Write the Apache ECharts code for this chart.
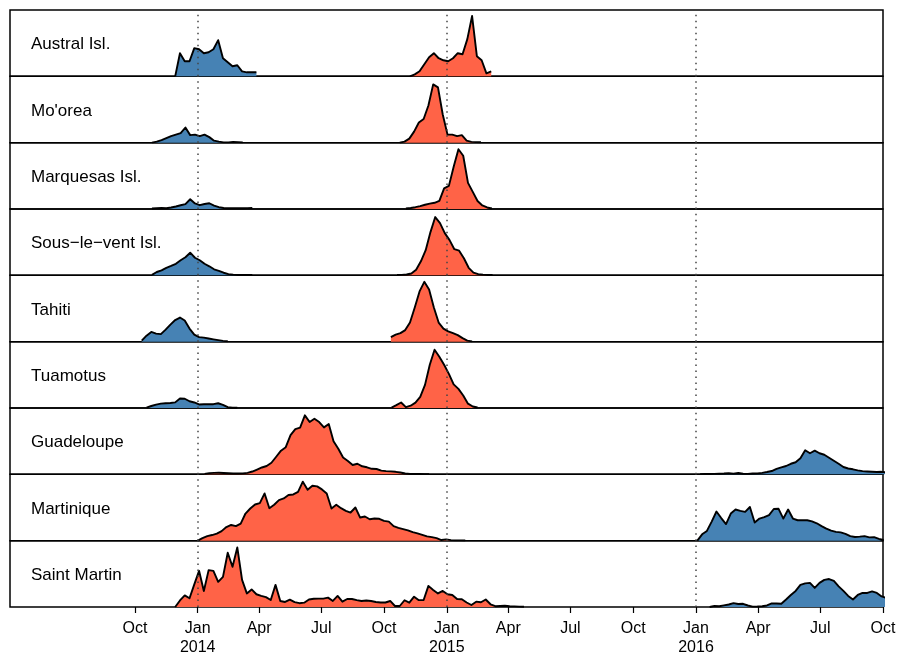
<!DOCTYPE html>
<html><head><meta charset="utf-8">
<script src="https://cdn.jsdelivr.net/npm/echarts@6/dist/echarts.min.js"></script>
<style>html,body{margin:0;padding:0;background:#fff}#c{width:901px;height:658px}</style>
</head><body><div id="c"></div>
<script>
// ---------- data (weekly values, relative incidence) ----------
const panelNames = ['Austral Isl.', "Mo'orea", 'Marquesas Isl.', 'Sous\u2212le\u2212vent Isl.', 'Tahiti', 'Tuamotus', 'Guadeloupe', 'Martinique', 'Saint Martin'];

const australBlueStart = '2013-11-29';
const australBlue = [0, 23, 15, 15, 28, 27, 23, 24, 27, 36, 18, 14, 10, 11, 5, 4, 4, 4];
const australRedStart = '2014-11-08';
const australRed = [0, 2, 5, 12, 19, 23, 18, 16, 15, 18, 23, 22, 37, 60, 20, 16, 3, 5];

const mooreaBlueStart = '2013-10-26';
const mooreaBlue = [0, 1, 2.5, 4.5, 6.5, 8, 9.5, 15, 7.5, 8, 6.5, 8, 5.5, 2, 1, 0.3, 0.3, 0.8, 0.5, 0.3];
const mooreaRedStart = '2014-10-24';
const mooreaRed = [0, 1, 4, 11, 20, 23.5, 37, 58, 55, 28, 8, 8, 6.5, 7.5, 2, 0.8, 0.5, 0.4];

const marquesasBlueStart = '2013-10-26';
const marquesasBlue = [0.5, 0.8, 1, 0.8, 1.5, 2.5, 3.7, 4.8, 9.7, 5.5, 3.8, 5, 5.7, 3.3, 1.8, 1, 0.8, 0.8, 0.7, 0.8, 0.9, 1];
const marquesasRedStart = '2014-11-02';
const marquesasRed = [0.5, 1, 1.8, 2.8, 4.2, 5.3, 6.2, 8, 20.5, 23, 42, 59.5, 53, 26, 17, 8, 3.5, 1.5, 0.5];

const sousBlueStart = '2013-10-26';
const sousBlue = [0.5, 3.3, 5, 7.5, 9.3, 11.5, 15, 18, 22.5, 17.5, 15, 11.5, 9, 6, 4.5, 2.6, 1.2, 0.7, 0.4, 0.3, 0.3, 0.3];
const sousRedStart = '2014-10-20';
const sousRed = [0.3, 0.5, 0.8, 1.8, 5.5, 14, 25, 43, 58, 52, 42, 35, 26, 24.5, 17, 7.5, 2.7, 1.2, 0.7, 0.4, 0.3];

const tahitiBlueStart = '2013-10-11';
const tahitiBlue = [1, 6, 9.7, 8, 7.5, 12, 17, 21.5, 24, 21, 13, 7, 4.5, 4, 3.2, 2.3, 1.5, 0.8, 0.4];
const tahitiRedStart = '2014-10-11';
const tahitiRed = [4.5, 7, 8.5, 11.5, 19, 34, 50, 59.5, 52, 34, 19, 13, 10.3, 8.5, 6.5, 3.5, 1, 0.3];

const tuamotusBlueStart = '2013-10-18';
const tuamotusBlue = [0.3, 2, 3.3, 4.3, 4.7, 5, 5.6, 9.5, 9.2, 6.7, 5.5, 3.5, 3.8, 3.8, 3.8, 4.7, 3.2, 0.8, 0.3, 0.2];
const tuamotusRedStart = '2014-10-12';
const tuamotusRed = [0.3, 2.8, 5.5, 0.8, 2.3, 5.3, 11, 23, 43, 58, 51, 43, 34, 23.5, 19, 12.5, 4.3, 1.5, 0.5];

const guadeloupeRedStart = '2014-01-11';
const guadeloupeRed = [0.5, 1.2, 1.5, 1.6, 1.4, 1.1, 0.9, 0.8, 1, 1.5, 2.8, 4.8, 6.8, 8.3, 11.5, 17.5, 23.5, 27, 39, 45, 46.5, 58.7, 52, 55.3, 52, 46.7, 50, 33, 25.5, 16.7, 13.3, 9.3, 10.5, 8, 7, 5.5, 5.3, 3.7, 3.2, 2.9, 2.5, 1.8, 0.8, 0.4, 0.3, 0.3, 0.2, 0.2];
const guadeloupeBlueStart = '2016-01-07';
const guadeloupeBlue = [0.2, 0.3, 0.3, 0.5, 0.6, 0.8, 1.2, 0.7, 1.3, 0.6, 0.5, 0.8, 1, 1.5, 2.3, 3.3, 5.5, 7, 8.3, 10.5, 12, 16, 24, 21, 23.5, 21, 19.5, 16.5, 13.5, 10.5, 7.3, 5.8, 5, 4, 3.2, 2.8, 2.5, 2.3, 2.5, 2];

const martiniqueRedStart = '2014-01-01';
const martiniqueRed = [0, 2.5, 4.5, 5.6, 7, 9.5, 13.5, 15.6, 14.5, 17, 27, 32, 36, 37.3, 47, 32.3, 35.7, 40.3, 42, 45.5, 46, 48.5, 58.7, 50.7, 54.7, 54, 51, 47, 32, 35.7, 32.3, 29.7, 28, 33, 23, 24, 21.3, 22, 21.8, 19.7, 19, 14.5, 12.8, 11.5, 10.3, 8.5, 7.3, 5.8, 4.3, 3.5, 2.5, 0.6, 1.3, 0.5, 0.3, 0.3, 0.2];
const martiniqueBlueStart = '2016-01-03';
const martiniqueBlue = [0, 6.3, 9.7, 19, 29, 22.5, 16.5, 27, 31, 29.7, 28.7, 33.5, 18, 22, 23.5, 25.5, 31.5, 31.7, 22, 31, 22, 20.3, 20.3, 20.3, 19.2, 17.3, 14.5, 12, 10, 8.8, 8.2, 6.8, 4.5, 3.7, 4, 4.5, 3.3, 3.5, 1.8, 0.8];

const saintMartinRedStart = '2013-11-29';
const saintMartinRed = [0, 6.5, 11.5, 8.7, 22.5, 36, 16, 36.7, 36, 25, 30, 54, 40, 59.3, 27, 13.5, 17.5, 12.7, 11, 9.8, 7, 22, 6, 5, 7.3, 4.8, 3.8, 4.3, 7.5, 8.2, 8.3, 8.3, 9.3, 6, 11, 5.3, 8, 8, 6.8, 6, 6.5, 6, 5, 4.5, 4.5, 6, 1, 1, 6.7, 4.3, 10.3, 6.8, 7, 21, 17, 13.5, 16, 12.7, 12, 8, 7.7, 4.5, 2, 5.3, 4.7, 7.5, 2.7, 0.8, 1, 1.3, 0.8, 0.6, 0.4, 0.3];
const saintMartinBlueStart = '2016-01-21';
const saintMartinBlue = [0, 1, 0.7, 1.6, 2.5, 3.8, 3, 3.2, 1.5, 0.4, 0.5, 0.8, 1.5, 3.5, 3.5, 3.3, 7.5, 12, 16, 22, 23.5, 24, 19, 24, 27, 27.8, 26, 20.5, 16, 11, 7.5, 12, 14, 14, 15.5, 14, 10.5, 9];

const tickDates = ['2013-10-01', '2014-01-01', '2014-04-01', '2014-07-01', '2014-10-01', '2015-01-01', '2015-04-01', '2015-07-01', '2015-10-01', '2016-01-01', '2016-04-01', '2016-07-01', '2016-10-01'];
const monthLabels = ['Jan', 'Feb', 'Mar', 'Apr', 'May', 'Jun', 'Jul', 'Aug', 'Sep', 'Oct', 'Nov', 'Dec'];
const refLineDates = ['2014-01-01', '2015-01-01', '2016-01-01'];
const xMinDate = '2013-04-01';
const xMaxDate = '2016-10-01';
const yMax = 66;

// ---------- build ----------
const DAY = 86400000;
const ts = s => new Date(s + 'T00:00:00').getTime();
function toPairs(start, vals) {
  const t0 = ts(start);
  return vals.map((v, i) => [t0 + i * 7 * DAY, v]);
}
const panelData = [
  [[australBlueStart, australBlue], [australRedStart, australRed]],
  [[mooreaBlueStart, mooreaBlue], [mooreaRedStart, mooreaRed]],
  [[marquesasBlueStart, marquesasBlue], [marquesasRedStart, marquesasRed]],
  [[sousBlueStart, sousBlue], [sousRedStart, sousRed]],
  [[tahitiBlueStart, tahitiBlue], [tahitiRedStart, tahitiRed]],
  [[tuamotusBlueStart, tuamotusBlue], [tuamotusRedStart, tuamotusRed]],
  [[guadeloupeBlueStart, guadeloupeBlue], [guadeloupeRedStart, guadeloupeRed]],
  [[martiniqueBlueStart, martiniqueBlue], [martiniqueRedStart, martiniqueRed]],
  [[saintMartinBlueStart, saintMartinBlue], [saintMartinRedStart, saintMartinRed]]
];
const BLUE = '#4682B4', RED = '#FF6347';
const TOP = 10, BOTTOM = 607, LEFT = 10, RIGHT = 883;
const N = panelNames.length;
const PH = (BOTTOM - TOP) / N;
const FONT = '"Liberation Sans", Arial, Helvetica, sans-serif';

const grids = [], xAxes = [], yAxes = [], series = [], graphics = [];
const tickVals = tickDates.map(ts);
for (let i = 0; i < N; i++) {
  const top = TOP + i * PH;
  grids.push({left: LEFT, width: RIGHT - LEFT, top: top, height: PH, show: true, borderColor: '#000', borderWidth: 1.5, backgroundColor: 'transparent'});
  const last = i === N - 1;
  xAxes.push({
    type: 'value', gridIndex: i, min: ts(xMinDate), max: ts(xMaxDate), scale: true,
    axisLine: {show: false}, splitLine: {show: false},
    axisTick: {show: last, length: 6, lineStyle: {color: '#000', width: 1.2}, customValues: tickVals},
    axisLabel: {
      show: last, customValues: tickVals, margin: 12, fontSize: 16, lineHeight: 19,
      color: '#000', fontFamily: FONT,
      formatter: v => { const d = new Date(v); const m = d.getMonth(); return m === 0 ? monthLabels[m] + '\n' + d.getFullYear() : monthLabels[m]; }
    }
  });
  yAxes.push({type: 'value', gridIndex: i, min: 0, max: yMax, show: false});
  panelData[i].forEach((pd, j) => {
    const s = {
      type: 'line', xAxisIndex: i, yAxisIndex: i, data: toPairs(pd[0], pd[1]),
      symbol: 'none', showSymbol: false, silent: true,
      lineStyle: {color: '#000', width: 1.9, join: 'round'},
      areaStyle: {color: j === 0 ? BLUE : RED, opacity: 1}
    };
    if (j === 0) {
      s.markLine = {
        silent: true, symbol: 'none', label: {show: false},
        lineStyle: {color: '#444', width: 1.5, type: [1.5, 4.5]},
        data: refLineDates.map(d => ({xAxis: ts(d)}))
      };
    }
    series.push(s);
  });
  graphics.push({
    type: 'text', left: 31, top: top + PH / 2 - 7,
    style: {text: panelNames[i], fontSize: 17, fontFamily: FONT, fill: '#000'}
  });
}

const chart = echarts.init(document.getElementById('c'), null, {renderer: 'canvas'});
chart.setOption({
  animation: false,
  backgroundColor: '#fff',
  grid: grids, xAxis: xAxes, yAxis: yAxes, series: series, graphic: graphics
});
</script></body></html>
